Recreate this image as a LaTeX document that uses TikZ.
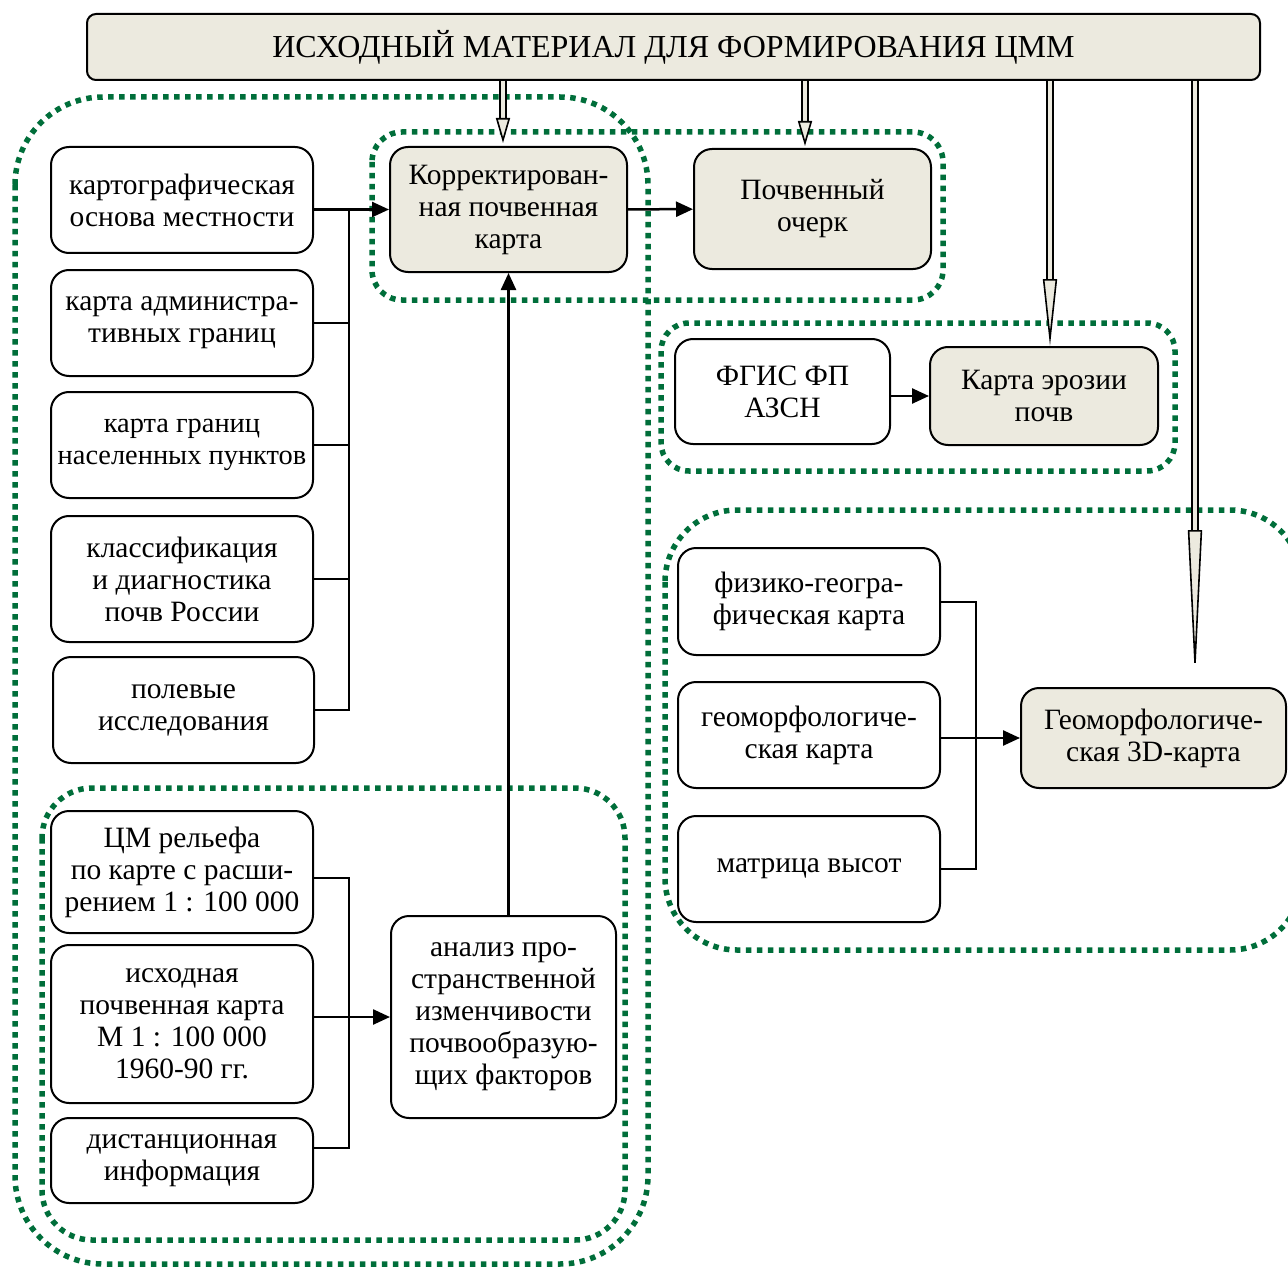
\documentclass[tikz,border=0pt]{standalone}
\usepackage{fontspec}
\setmainfont{Liberation Serif}
\usetikzlibrary{arrows.meta,positioning,calc}
\definecolor{cream}{RGB}{236,234,223}
\definecolor{dotgreen}{RGB}{0,110,58}
\tikzset{feed/.style={draw=black,double=cream,line width=1.6pt,double distance=4.5pt,-{Triangle[length=#1,width=14pt,fill=cream,line width=1.6pt]}}}

\begin{document}
\begin{tikzpicture}[x=1pt,y=-1pt,
    box/.style={draw,fill=white,line width=2pt,rounded corners=18pt,align=center,inner sep=1pt,font=\fontsize{29.5}{32}\selectfont},
    hbox/.style={box,fill=cream},
    group/.style={dotgreen,line width=5.5pt,dash pattern=on 5.5pt off 5.5pt},
    link/.style={line width=2.5pt,-{Triangle[length=17pt,width=15pt]}},
    bus/.style={line width=2pt}]
    \useasboundingbox (0,0) rectangle (1288,1268);
    % dotted groups
    \draw[group,rounded corners=88pt] (15,97) rectangle (648,1264);
    \draw[group,rounded corners=50pt] (42,788) rectangle (625,1240);
    \draw[group,rounded corners=30pt] (372,132) rectangle (943,300);
    \draw[group,rounded corners=28pt] (661,323) rectangle (1175,471);
    \draw[group,rounded corners=72pt] (665,510) rectangle (1302,950);
    % source
    \node[hbox,rounded corners=9pt,minimum width=1173pt,minimum height=66pt,font=\fontsize{32}{36}\selectfont] (src) at (673.5,47) {ИСХОДНЫЙ МАТЕРИАЛ ДЛЯ ФОРМИРОВАНИЯ ЦММ};
    % left column
    \node[box,minimum width=262pt,minimum height=106pt] (kart) at (182,200) {картографическая\\основа местности};
    \node[box,minimum width=262pt,minimum height=106pt] (adm) at (182,323) {карта администра-\\тивных границ};
    \node[box,minimum width=262pt,minimum height=106pt,font=\fontsize{28.4}{32}\selectfont] (nasel) at (182,445) {карта границ\\населенных пунктов};
    \node[box,minimum width=262pt,minimum height=126pt] (klass) at (182,579) {классификация\\и диагностика\\почв России};
    \node[box,minimum width=261pt,minimum height=106pt] (pole) at (183.5,710) {полевые\\исследования};
    \node[hbox,minimum width=237pt,minimum height=125pt] (korr) at (508.5,209.5) {Корректирован-\\ная почвенная\\карта};
    \node[hbox,minimum width=237pt,minimum height=120pt] (ocherk) at (812.5,209) {Почвенный\\очерк};
    % erosion
    \node[box,minimum width=215pt,minimum height=105pt] (fgis) at (782.5,391.5) {ФГИС ФП\\АЗСН};
    \node[hbox,minimum width=228pt,minimum height=98pt] (eroz) at (1044,396) {Карта эрозии\\почв};
    % relief
    \node[box,minimum width=262pt,minimum height=107pt] (fiz) at (809,601.5) {физико-геогра-\\фическая карта};
    \node[box,minimum width=262pt,minimum height=106pt] (geom) at (809,735) {геоморфологиче-\\ская карта};
    \node[box,minimum width=262pt,minimum height=106pt] (matr) at (809,869) {матрица высот};
    \node[hbox,minimum width=265pt,minimum height=100pt] (geo3d) at (1153.5,738) {Геоморфологиче-\\ская 3D-карта};
    % bottom left
    \node[box,minimum width=262pt,minimum height=122pt] (cmrel) at (182,872) {ЦМ рельефа\\по карте с расши-\\рением 1 : 100 000};
    \node[box,minimum width=262pt,minimum height=158pt] (ishod) at (182,1024) {исходная\\почвенная карта\\М 1 : 100 000\\1960-90 гг.};
    \node[box,minimum width=262pt,minimum height=85pt] (dist) at (182,1160.5) {дистанционная\\информация};
    \node[box,minimum width=225pt,minimum height=202pt] (analiz) at (503.5,1017) {анализ про-\\странственной\\изменчивости\\почвообразую-\\щих факторов};
    % buses
    \draw[bus] (korr.west -| 349,0) |- (pole.east);
    \foreach \b in {adm,nasel,klass}
      \draw[bus] (\b.east) -- (\b.east -| 349,0);
    \draw[link] (kart.east |- korr.west) -- (korr.west);
    \draw[link] (korr) -- (ocherk);
    \draw[link] (fgis.east |- eroz.west) -- (eroz.west);
    \draw[bus] (fiz.east) -| (976,0 |- matr.east) -- (matr.east);
    \draw[link] (geom.east |- geo3d.west) -- (geo3d.west);
    \draw[bus] ($(cmrel.east)+(0,6)$) -| (349,1148) -- (dist.east |- 0,1148);
    \draw[link] (ishod.east |- analiz.west) -- (analiz.west);
    \draw[link] (analiz.north -| korr.south) -- (korr.south);
    % source arrows
    \draw[feed=25pt] (src.south -| 503,0) -- (503,143);
    \draw[feed=25pt] (src.south -| 805,0) -- (805,146);
    \draw[feed=67pt] (src.south -| 1050,0) -- (eroz.north -| 1050,0);
    \draw[feed=150pt] (src.south -| 1195,0) -- (1195,680);
\end{tikzpicture}
\end{document}
